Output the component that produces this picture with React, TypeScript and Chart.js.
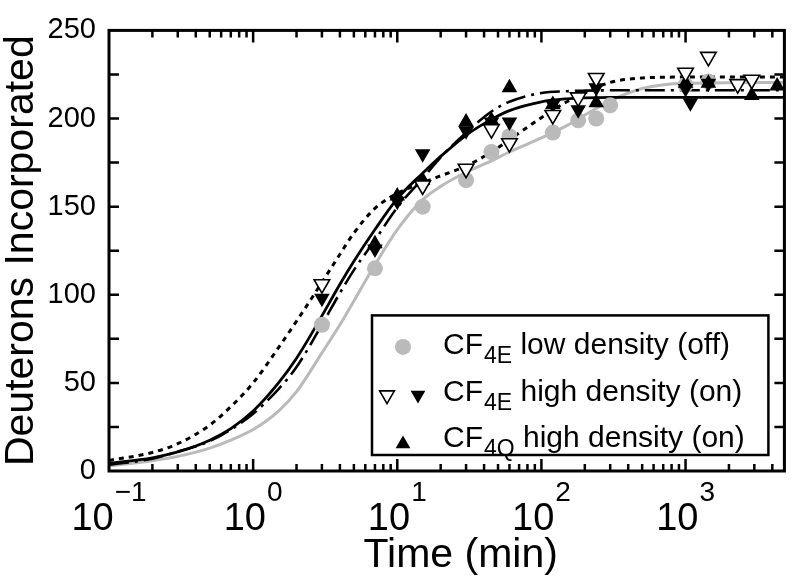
import React, { useEffect, useRef } from 'react';
import { Chart, registerables } from 'chart.js';

Chart.register(...registerables);

const FONT = "'Liberation Sans', Arial, Helvetica, sans-serif";

// ---- measured points (time in min, deuterons incorporated) ----
const lowOffTimes = [3, 7, 15, 30, 45, 60, 120, 180, 240, 300, 1000, 1440];
const lowOffValues = [83, 115, 150, 165, 181, 190, 192, 199, 200, 207.5, 219, 221];

const highOpenTimes = [3, 15, 30, 45, 60, 120, 180, 240, 1000, 1440, 2300, 2880];
const highOpenValues = [106, 162, 171.5, 194, 186, 202, 212, 223, 226, 235, 219.5, 222];

const highFilledTimes = [3, 7, 10, 15, 30, 45, 60, 120, 180, 240, 1000, 1080, 1440];
const highFilledValues = [98, 126, 153, 180, 193, 198, 198, 208, 205, 217.5, 217, 209, 220];

const q4Times = [7, 10, 15, 30, 45, 60, 120, 240, 1000, 1440, 2880, 4320];
const q4Values = [129, 156, 165, 198, 199, 217.5, 208, 209, 220, 220, 213, 218.5];

// ---- fitted curves, read at these times ----
const curveTimes = [0.1, 0.2, 0.3, 0.5, 0.7, 1, 1.5, 2, 3, 4, 5, 7, 10, 15, 20, 30, 45, 60, 100, 150, 200, 300, 500, 1000, 4850];
const fitDotted = [6, 10.5, 15.5, 26, 36.5, 50, 70, 85, 107, 123, 135, 149, 157.5, 163.5, 167.5, 173, 181, 188, 200.5, 209.5, 214.5, 220.5, 223, 223.5, 223.5];
const fitSolid = [4.3, 7.5, 10.8, 17.5, 24, 34, 50, 64, 88, 106, 119, 137, 154.5, 169, 178.5, 190.5, 199.5, 204.5, 209.5, 211.2, 211.7, 212, 212, 212, 212];
const fitDashDot = [3.5, 7, 11, 17, 23.5, 32.5, 46.5, 59, 83, 101, 114, 131, 149.5, 166, 178, 192, 204, 209.5, 214.5, 215.5, 215.8, 216, 216, 216, 216];
const fitGray = [3, 5.8, 8.3, 13, 17.5, 23.5, 34, 45, 67, 83, 96.5, 117, 137, 154, 161.5, 169.5, 176, 181, 189, 196, 202, 210, 217, 220, 220.5];

// ---- axes ----
const xMin = 0.1;
const xMax = 4850;
const yMin = 0;
const yMax = 250;
const yLabelStep = 50;
const yMinorStep = 25;
const xTickValues = [0.1, 1, 10, 100, 1000];
const xTickExponents = ['\u22121', '0', '1', '2', '3'];
const xTitle = 'Time (min)';
const yTitle = 'Deuterons Incorporated';

// ---- legend ----
const legendMain = ['CF', 'CF', 'CF'];
const legendSub = ['4E', '4E', '4Q'];
const legendRest = [' low density (off)', ' high density (on)', ' high density (on)'];

const GRAY = '#bababa';

const pts = (ts: number[], vs: number[]) => ts.map((t, i) => ({ x: t, y: vs[i] }));

function drawTri(ctx: CanvasRenderingContext2D, x: number, y: number, r: number, down: boolean, fill: string, stroke: string, lw: number) {
  const s = down ? -1 : 1;
  ctx.beginPath();
  ctx.moveTo(x, y - s * r);
  ctx.lineTo(x + Math.sin((2 * Math.PI) / 3) * r, y + s * r / 2);
  ctx.lineTo(x - Math.sin((2 * Math.PI) / 3) * r, y + s * r / 2);
  ctx.closePath();
  ctx.fillStyle = fill;
  ctx.fill();
  if (lw > 0) {
    ctx.lineWidth = lw;
    ctx.strokeStyle = stroke;
    ctx.stroke();
  }
}

const decorPlugin = {
  id: 'decor',
  afterDraw(chart: any) {
    const { ctx, chartArea: a, scales } = chart;
    const xs = scales.x;
    const ys = scales.y;
    ctx.save();
    ctx.strokeStyle = '#000';
    ctx.lineWidth = 2.5;
    ctx.beginPath();
    for (let v = yMin + yMinorStep; v < yMax; v += yMinorStep) {
      const py = ys.getPixelForValue(v);
      ctx.moveTo(a.left, py);
      ctx.lineTo(a.left + 10, py);
      ctx.moveTo(a.right, py);
      ctx.lineTo(a.right - 10, py);
    }
    for (let d = -1; d <= 3; d++) {
      for (let m = 1; m <= 9; m++) {
        const v = m * Math.pow(10, d);
        if (v <= xMin * 1.0001 || v >= xMax) continue;
        const px = xs.getPixelForValue(v);
        const len = m === 1 ? 12 : 7;
        ctx.moveTo(px, a.bottom);
        ctx.lineTo(px, a.bottom - len);
        ctx.moveTo(px, a.top);
        ctx.lineTo(px, a.top + len);
      }
    }
    ctx.stroke();
    ctx.lineWidth = 3;
    ctx.strokeRect(a.left, a.top, a.right - a.left, a.bottom - a.top);

    // x tick labels 10^n
    ctx.fillStyle = '#000';
    ctx.textAlign = 'left';
    ctx.textBaseline = 'alphabetic';
    xTickValues.forEach((v, i) => {
      const px = xs.getPixelForValue(v);
      ctx.font = `38px ${FONT}`;
      const w1 = ctx.measureText('10').width;
      ctx.font = `28px ${FONT}`;
      const w2 = ctx.measureText(xTickExponents[i]).width;
      const sx = px - (w1 + w2 + 1) / 2;
      ctx.font = `38px ${FONT}`;
      ctx.fillText('10', sx, a.bottom + 59);
      ctx.font = `28px ${FONT}`;
      ctx.fillText(xTickExponents[i], sx + w1 + 1, a.bottom + 30);
    });

    // x axis title
    ctx.font = `41px ${FONT}`;
    ctx.textAlign = 'center';
    ctx.fillText(xTitle, (a.left + a.right) / 2 + 14, a.bottom + 96);
    ctx.textAlign = 'left';

    // legend box
    const bl = a.left + 263;
    const br = a.right - 16;
    const bt = a.top + 285;
    const bb = a.bottom - 16;
    ctx.fillStyle = '#fff';
    ctx.fillRect(bl, bt, br - bl, bb - bt);
    ctx.lineWidth = 2.5;
    ctx.strokeStyle = '#000';
    ctx.strokeRect(bl, bt, br - bl, bb - bt);
    const baselines = [bt + 39, bt + 85.7, bt + 131.7];
    ctx.beginPath();
    ctx.arc(bl + 31, baselines[0] - 7.5, 8, 0, Math.PI * 2);
    ctx.fillStyle = GRAY;
    ctx.fill();
    drawTri(ctx, bl + 15, baselines[1] - 6, 8.5, true, '#fff', '#000', 1.6);
    drawTri(ctx, bl + 46, baselines[1] - 6, 8.5, true, '#000', '#000', 0);
    drawTri(ctx, bl + 31, baselines[2] - 3, 8.5, false, '#000', '#000', 0);
    ctx.fillStyle = '#000';
    for (let i = 0; i < 3; i++) {
      let x = bl + 71;
      const y = baselines[i];
      ctx.font = `30px ${FONT}`;
      ctx.fillText(legendMain[i], x, y);
      x += ctx.measureText(legendMain[i]).width + 1;
      ctx.font = `23px ${FONT}`;
      ctx.fillText(legendSub[i], x, y + 9);
      x += ctx.measureText(legendSub[i]).width;
      ctx.font = `30px ${FONT}`;
      ctx.fillText(legendRest[i], x, y);
    }
    ctx.restore();
  },
};

export default function App() {
  const ref = useRef<HTMLCanvasElement>(null);
  useEffect(() => {
    const canvas = ref.current;
    if (!canvas) return;
    Chart.defaults.font.family = FONT;
    Chart.defaults.color = '#000';
    const lineDs = (data: number[], color: string, width: number, dash: number[]) => ({
      type: 'scatter' as const,
      data: pts(curveTimes, data),
      showLine: true,
      pointRadius: 0,
      pointHoverRadius: 0,
      borderColor: color,
      backgroundColor: color,
      borderWidth: width,
      borderDash: dash,
      borderCapStyle: 'butt' as const,
      cubicInterpolationMode: 'monotone' as const,
      fill: false,
    });
    const chart = new Chart(canvas, {
      type: 'scatter',
      data: {
        datasets: [
          {
            data: pts(highOpenTimes, highOpenValues),
            pointStyle: 'triangle',
            rotation: 180,
            pointRadius: 9,
            backgroundColor: '#fff',
            borderColor: '#000',
            borderWidth: 1.6,
          } as any,
          {
            data: pts(highFilledTimes, highFilledValues),
            pointStyle: 'triangle',
            rotation: 180,
            pointRadius: 9,
            backgroundColor: '#000',
            borderColor: '#000',
            borderWidth: 0,
          },
          {
            data: pts(q4Times, q4Values),
            pointStyle: 'triangle',
            pointRadius: 9,
            backgroundColor: '#000',
            borderColor: '#000',
            borderWidth: 0,
          },
          {
            data: pts(lowOffTimes, lowOffValues),
            pointStyle: 'circle',
            pointRadius: 8,
            backgroundColor: GRAY,
            borderColor: GRAY,
            borderWidth: 0,
          },
          lineDs(fitDotted, '#000', 3, [5, 5]),
          lineDs(fitSolid, '#000', 2.8, []),
          lineDs(fitDashDot, '#000', 2.6, [20, 6, 3, 6]),
          lineDs(fitGray, GRAY, 3, []),
        ] as any,
      },
      options: {
        animation: false,
        responsive: false,
        devicePixelRatio: 1,
        layout: { padding: { left: 0, right: 9, top: 20, bottom: 0 } },
        plugins: { legend: { display: false }, tooltip: { enabled: false } },
        events: [],
        scales: {
          x: {
            type: 'logarithmic',
            min: xMin,
            max: xMax,
            grid: { display: false, drawTicks: false },
            border: { display: false },
            ticks: { display: false },
            title: { display: false, text: xTitle },
            afterFit: (s: any) => {
              s.height = 108;
            },
          },
          y: {
            type: 'linear',
            min: yMin,
            max: yMax,
            grid: { display: false, drawTicks: false },
            border: { display: false },
            ticks: { stepSize: yLabelStep, font: { size: 29 }, color: '#000', padding: 13 },
            title: {
              display: true,
              text: yTitle,
              font: { size: 41, lineHeight: 1 },
              color: '#000',
              padding: { top: 1, bottom: 0 },
            },
            afterFit: (s: any) => {
              s.width = 109;
            },
          },
        },
      } as any,
      plugins: [decorPlugin],
    });
    return () => chart.destroy();
  }, []);
  return (
    <div style={{ position: 'absolute', left: 0, top: 0, width: 795, height: 579, background: '#fff' }}>
      <canvas ref={ref} width={795} height={579} style={{ display: 'block', width: 795, height: 579 }} />
    </div>
  );
}
